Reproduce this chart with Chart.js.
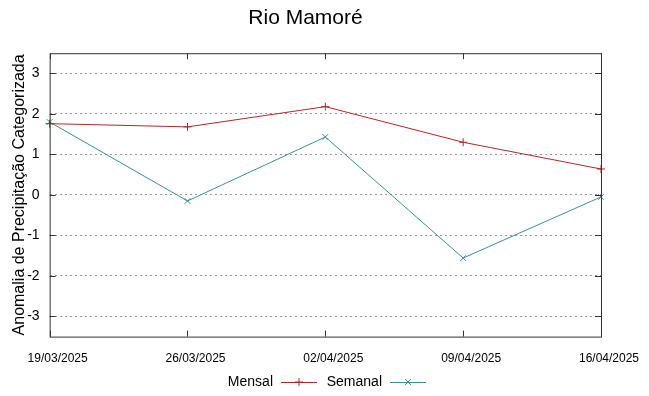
<!DOCTYPE html>
<html>
<head>
<meta charset="utf-8">
<script src="https://cdn.jsdelivr.net/npm/chart.js@4"></script>
<style>
  body { margin: 0; background: #fff; }
  #wrap { width: 649px; height: 396px; }
</style>
</head>
<body>
<div id="wrap"><canvas id="myChart" width="649" height="396"></canvas></div>
<script>
const datas = ['19/03/2025', '26/03/2025', '02/04/2025', '09/04/2025', '16/04/2025'];
const mensal = [1.76, 1.68, 2.18, 1.30, 0.64];
const semanal = [1.80, -0.15, 1.43, -1.56, -0.05];
const yTicks = [-3, -2, -1, 0, 1, 2, 3];

const corMensal = '#b0282b';
const corSemanal = '#3a9191';

// moldura com ticks para dentro, estilo gnuplot
const moldura = {
    id: 'moldura',
    afterDraw(chart) {
        const c = chart.ctx;
        const a = chart.chartArea;
        const x = chart.scales.x;
        const y = chart.scales.y;
        c.save();
        c.strokeStyle = '#333';
        c.lineWidth = 1;
        c.strokeRect(a.left + 0.5, a.top + 0.5, a.right - a.left, a.bottom - a.top);
        c.beginPath();
        yTicks.forEach(v => {
            const py = Math.round(y.getPixelForValue(v)) + 0.5;
            c.moveTo(a.left, py); c.lineTo(a.left + 6, py);
            c.moveTo(a.right, py); c.lineTo(a.right - 6, py);
        });
        datas.forEach((d, i) => {
            const px = Math.round(x.getPixelForValue(i)) + 0.5;
            c.moveTo(px, a.bottom); c.lineTo(px, a.bottom - 6);
            c.moveTo(px, a.top); c.lineTo(px, a.top + 6);
        });
        c.stroke();

        // legenda: texto e depois a amostra da linha
        const ly = 382;
        const itens = [
            { texto: 'Mensal', cor: corMensal, estilo: 'cross', fim: 273 },
            { texto: 'Semanal', cor: corSemanal, estilo: 'crossRot', fim: 382 }
        ];
        c.font = '14px "Liberation Sans", Arial, sans-serif';
        c.textAlign = 'right';
        c.textBaseline = 'middle';
        itens.forEach(it => {
            c.fillStyle = '#000';
            c.fillText(it.texto, it.fim, ly);
            c.strokeStyle = it.cor;
            c.beginPath();
            c.moveTo(it.fim + 8, ly + 0.5);
            c.lineTo(it.fim + 44, ly + 0.5);
            c.stroke();
            Chart.helpers.drawPoint(c, { pointStyle: it.estilo, radius: 4, borderWidth: 1 }, it.fim + 26, ly);
        });
        c.restore();
    }
};

const ctx = document.getElementById('myChart').getContext('2d');
const myChart = new Chart(ctx, {
    type: 'line',
    data: {
        labels: datas,
        datasets: [{
            label: 'Mensal',
            data: mensal,
            borderColor: corMensal,
            backgroundColor: corMensal,
            borderWidth: 1,
            pointStyle: 'cross',
            pointRadius: 4,
            pointBorderWidth: 1,
            tension: 0
        }, {
            label: 'Semanal',
            data: semanal,
            borderColor: corSemanal,
            backgroundColor: corSemanal,
            borderWidth: 1,
            pointStyle: 'crossRot',
            pointRadius: 4,
            pointBorderWidth: 1,
            tension: 0
        }]
    },
    options: {
        responsive: false,
        animation: false,
        layout: { padding: { left: 10, right: 48, top: 0, bottom: 15 } },
        scales: {
            x: {
                type: 'category',
                offset: false,
                grid: { display: false, drawTicks: false },
                border: { display: false },
                ticks: {
                    maxRotation: 0,
                    autoSkip: false,
                    labelOffset: 8,
                    padding: 15,
                    color: '#000',
                    font: { family: '"Liberation Sans Narrow", "Liberation Sans", Arial', size: 12 }
                }
            },
            y: {
                min: -3.5,
                max: 3.5,
                afterBuildTicks: s => { s.ticks = yTicks.map(v => ({ value: v })); },
                afterFit: s => { s.width -= 12; },
                grid: {
                    color: '#999',
                    lineWidth: 1,
                    drawTicks: false
                },
                border: { display: false, dash: [2, 3] },
                ticks: {
                    padding: 10,
                    color: '#000',
                    font: { family: '"Liberation Sans", Arial', size: 14 }
                },
                title: {
                    display: true,
                    text: 'Anomalia de Precipitação Categorizada',
                    color: '#000',
                    padding: 0,
                    font: { family: '"Liberation Sans", Arial', size: 16 }
                }
            }
        },
        plugins: {
            legend: { display: false },
            tooltip: { enabled: false },
            title: {
                display: true,
                text: 'Rio Mamoré',
                color: '#000',
                padding: { top: 6, bottom: 22 },
                font: { family: '"Liberation Sans", Arial', size: 21, weight: 'normal' }
            }
        }
    },
    plugins: [moldura]
});
</script>
</body>
</html>
